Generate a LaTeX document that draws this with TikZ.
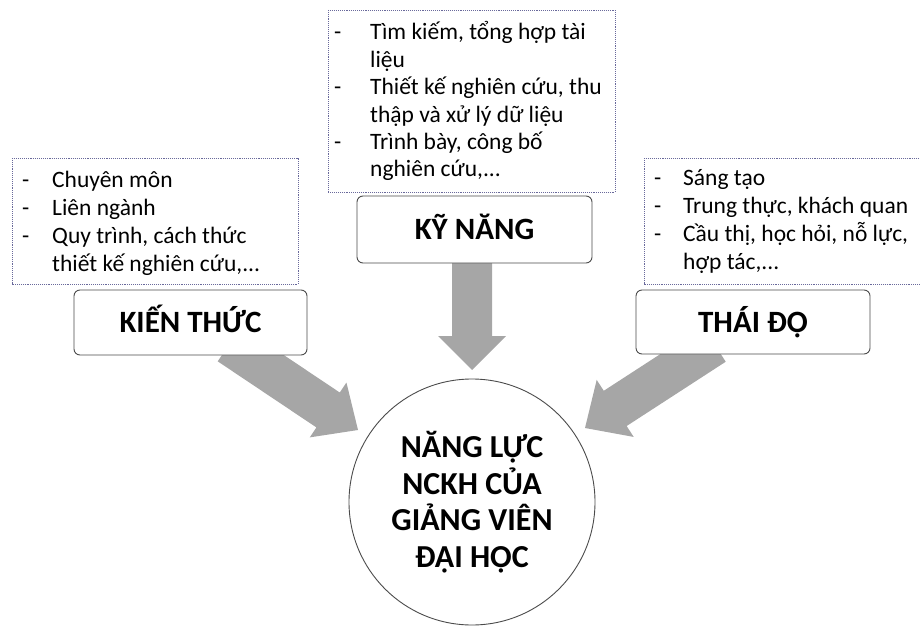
\documentclass[tikz,border=0pt]{standalone}
\usepackage{fontspec}
\setmainfont{Carlito}
\usetikzlibrary{calc}
\definecolor{dotc}{RGB}{105,105,155}
\definecolor{arrowc}{RGB}{166,166,166}
\definecolor{edgec}{RGB}{75,75,75}
\newcommand\fatarrow[5]{%
  \path coordinate (fatH) at ($(#2)!#5!(#1)$);
  \fill[arrowc] ($(#1)!#3!90:(#2)$) -- ($(fatH)!#3!-90:(#1)$) -- ($(fatH)!#4!-90:(#1)$)
    -- (#2) -- ($(fatH)!#4!90:(#1)$) -- ($(fatH)!#3!90:(#1)$) -- ($(#1)!#3!-90:(#2)$) -- cycle;}
\begin{document}
\begin{tikzpicture}[x=1pt,y=-1pt,
  listbox/.style={draw=dotc, densely dotted, line width=0.9pt},
  listtext/.style={anchor=base west, inner sep=0pt, font=\fontsize{23.5}{28.3}\selectfont},
  labelbox/.style={draw=edgec, fill=white, rounded corners=6pt, line width=0.9pt,
    font=\bfseries\fontsize{31}{36}\selectfont, inner sep=0pt, text height=22pt, text depth=2pt}]
\useasboundingbox (0,0) rectangle (920,626);
\clip (0,0) rectangle (920,626);
% arrows
\coordinate (ktS) at (229.4,343.9);
\coordinate (ktT) at (358,430);
\coordinate (knS) at (472,255);
\coordinate (knT) at (472,370);
\coordinate (tdS) at (714.3,344.1);
\coordinate (tdT) at (585,428);
\fatarrow{ktS}{ktT}{21pt}{33pt}{36pt}
\fatarrow{knS}{knT}{20pt}{34pt}{34pt}
\fatarrow{tdS}{tdT}{21pt}{34pt}{36pt}
% dotted boxes
\draw[listbox] (12,158) rectangle (298,284);
\draw[listbox] (328,10) rectangle (615,192);
\draw[listbox] (644,158) rectangle (930,284);
% lists
\node[listtext] (ktl) at (22,187) {\begin{tabular}[t]{@{}p{30pt}@{}l@{}}
- & Chuyên môn\\
- & Liên ngành\\
- & Quy trình, cách thức\\
  & thiết kế nghiên cứu,...
\end{tabular}};
\node[listtext, font=\fontsize{23.5}{27.4}\selectfont] (knl) at (334,40) {\begin{tabular}[t]{@{}p{36pt}@{}l@{}}
- & Tìm kiếm, tổng hợp tài\\
  & liệu\\
- & Thiết kế nghiên cứu, thu\\
  & thập và xử lý dữ liệu\\
- & Trình bày, công bố\\
  & nghiên cứu,...
\end{tabular}};
\node[listtext] (tdl) at (654,185) {\begin{tabular}[t]{@{}p{29pt}@{}l@{}}
- & Sáng tạo\\
- & Trung thực, khách quan\\
- & Cầu thị, học hỏi, nỗ lực,\\
  & hợp tác,...
\end{tabular}};
% label boxes
\node[labelbox, minimum width=233pt, minimum height=65pt] (kt) at (190.5,322.5) {KIẾN THỨC};
\node[labelbox, minimum width=235pt, minimum height=67pt] (kn) at (474.5,229.5) {KỸ NĂNG};
\node[labelbox, minimum width=234pt, minimum height=64pt] (td) at (753,322) {THÁI ĐỘ};
% circle
\node[circle, draw=edgec, fill=white, line width=0.9pt, minimum size=246pt, inner sep=0pt,
  align=center, font=\bfseries\fontsize{32}{36.5}\selectfont] (nl) at (472,502)
  {NĂNG LỰC\\NCKH CỦA\\GIẢNG VIÊN\\ĐẠI HỌC};
\end{tikzpicture}
\end{document}
